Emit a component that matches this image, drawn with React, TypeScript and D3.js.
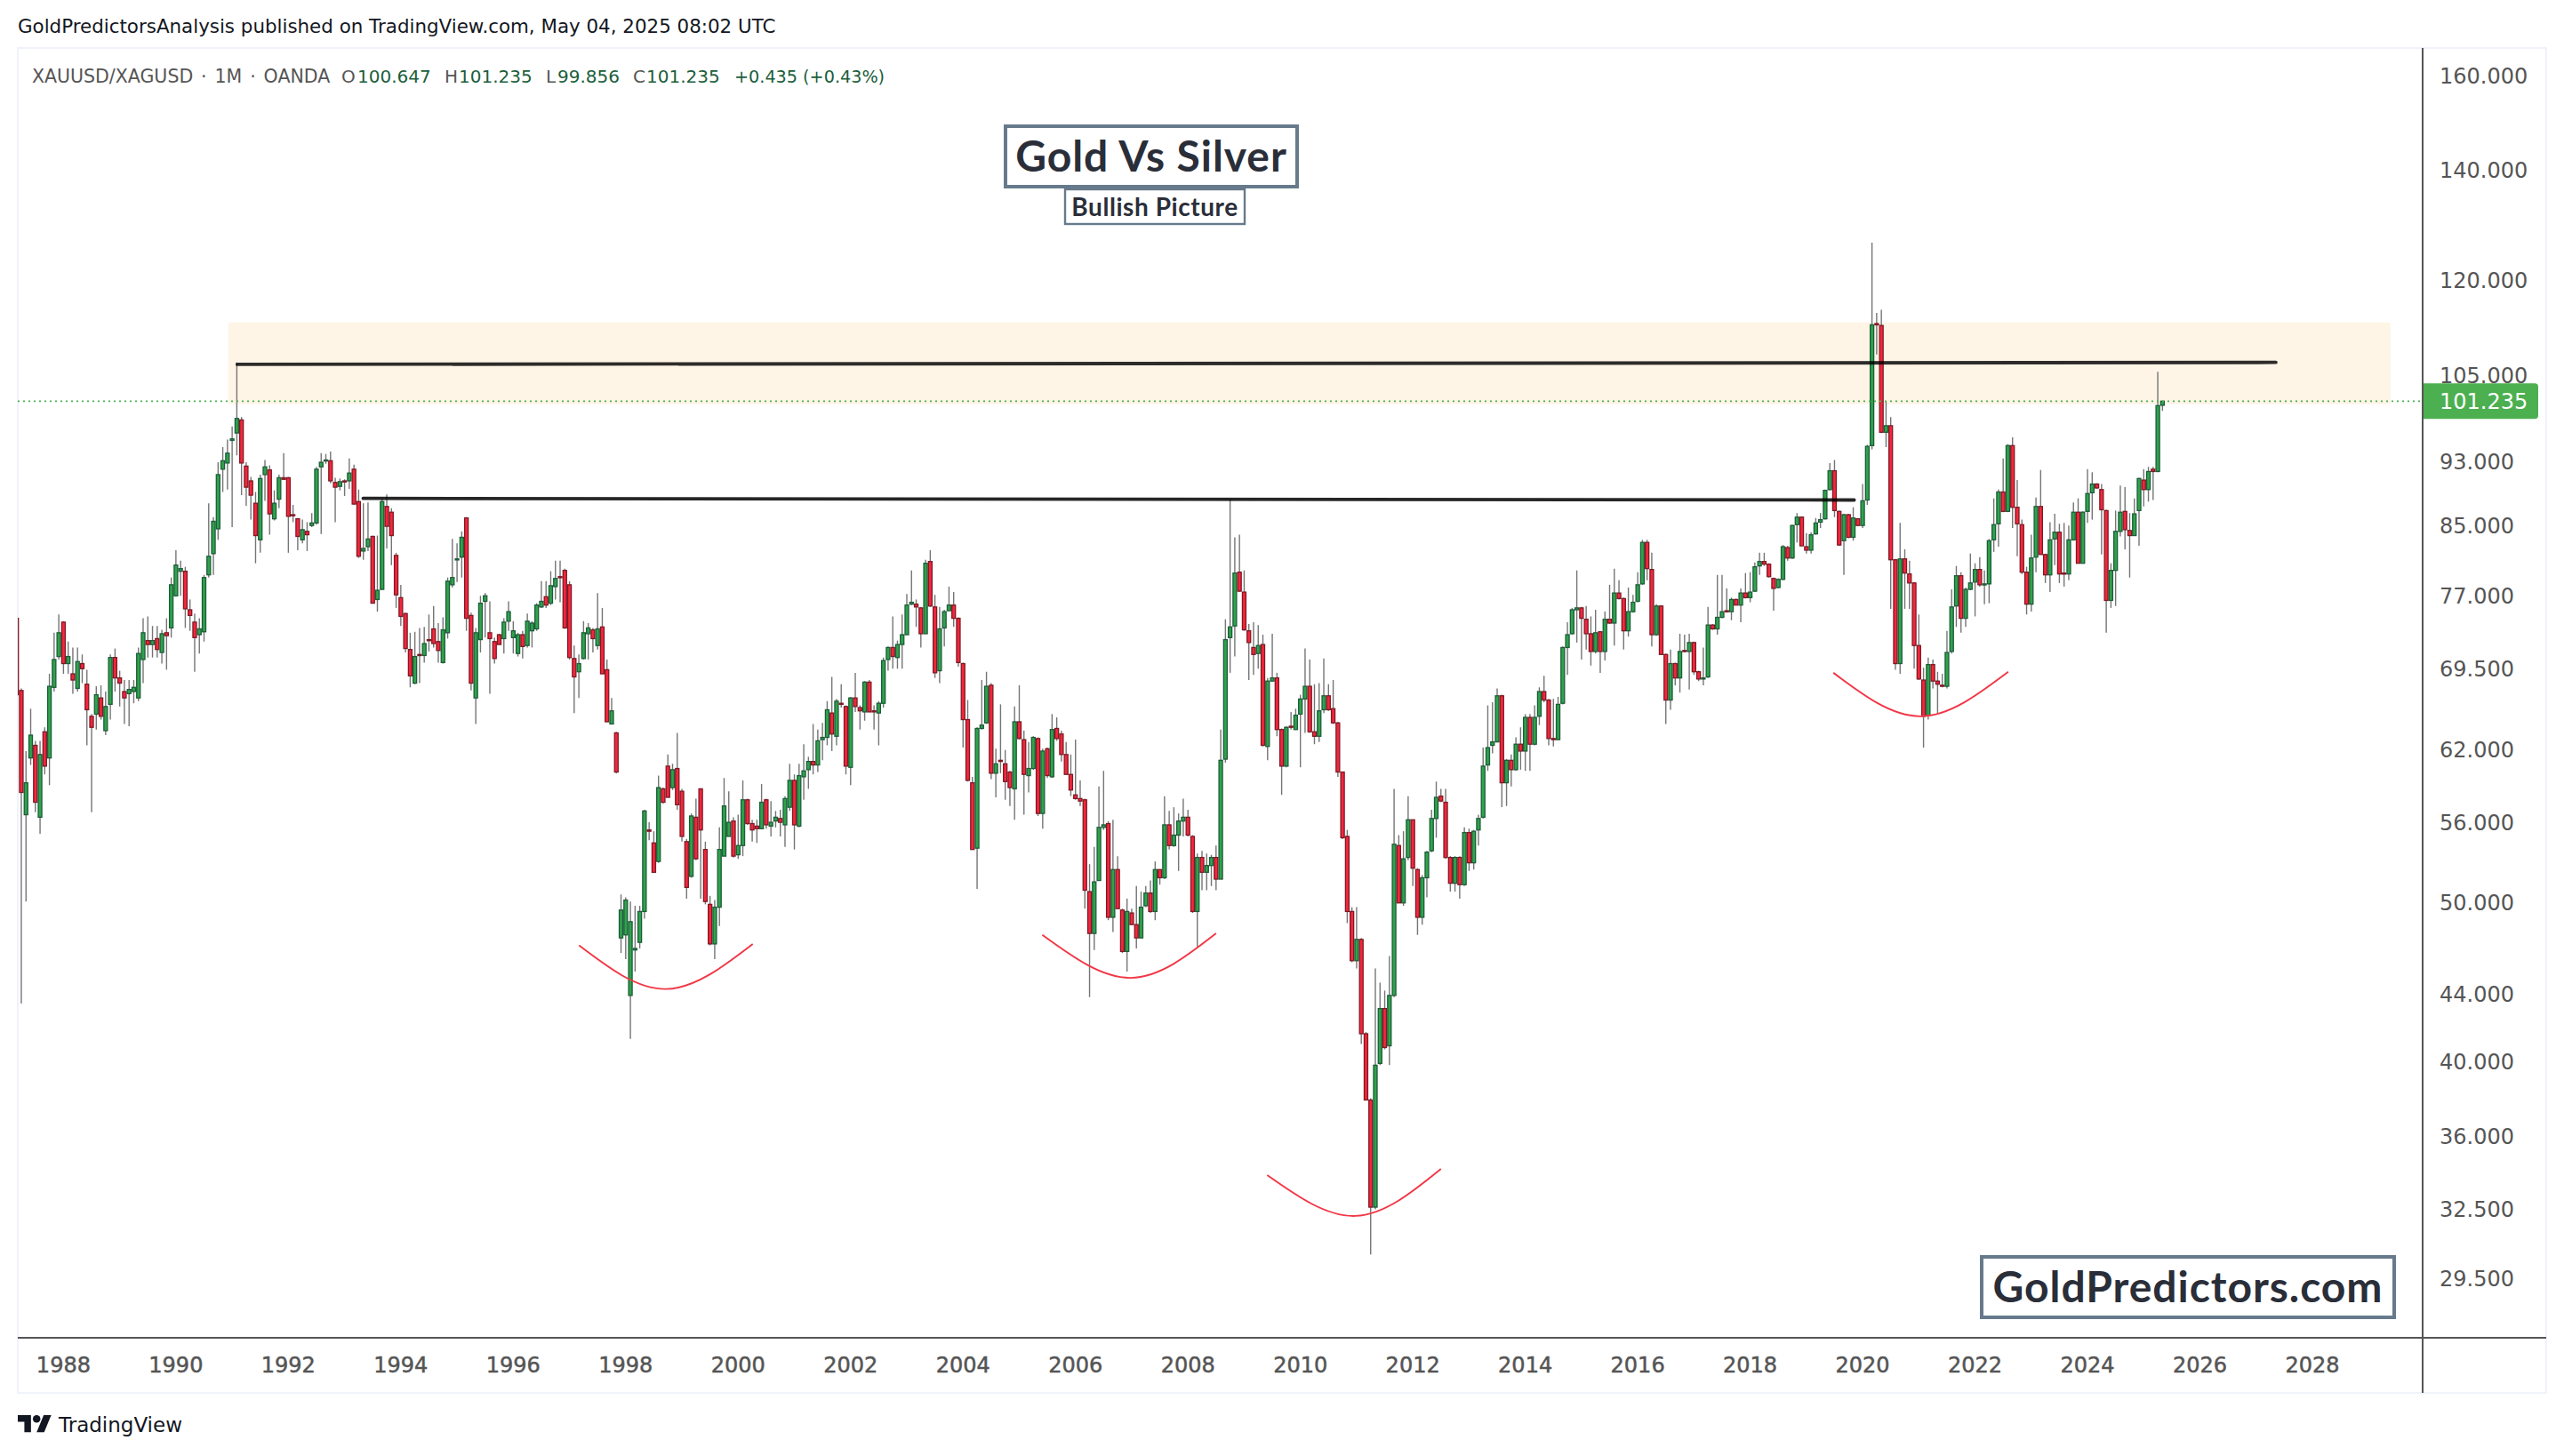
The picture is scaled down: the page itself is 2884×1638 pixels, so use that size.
import React from 'react';
import * as d3 from 'd3';

type Candle = [number, number, number, number]; // open, high, low, close

// XAUUSD/XAGUSD monthly bars, the first one is Mar 1987
const candles1987to1989: Candle[] = [
  [74.6,74.6,60.0,67.0],[67.4,67.6,43.4,58.4],[56.6,61.9,50.1,59.2],[61.3,65.7,60.7,63.3],[62.4,62.8,56.8,57.6],[56.4,62.8,55.1,61.6],[63.6,64.0,59.9,60.6],[61.3,69.0,59.0,67.8],[67.7,73.1,67.3,70.4],[70.7,75.0,70.4,73.1],
  [74.2,74.3,69.0,70.0],[70.0,72.2,69.0,70.7],[69.0,71.6,67.1,68.4],[67.6,71.6,67.3,70.2],[70.0,70.9,68.1,69.5],[68.0,69.4,62.4,65.6],[65.0,65.2,56.8,64.0],[65.2,67.8,63.8,67.0],[66.7,67.9,64.7,65.0],[63.7,67.3,63.3,65.9],
  [66.1,70.9,64.7,70.6],[70.6,71.5,67.3,68.6],[68.6,69.3,65.9,68.1],[67.3,68.4,64.3,66.7],[67.1,68.4,64.1,67.5],[67.3,68.4,66.2,67.7],[66.7,71.6,66.4,71.0],[70.4,74.6,68.1,73.1],[72.3,74.8,70.6,71.9],[71.9,73.8,70.6,72.3],
  [72.5,73.8,70.6,71.4],[71.1,73.4,70.0,73.0],[73.1,74.6,69.4,72.8],[73.6,79.0,72.6,78.2],
];
const candles1990to1994: Candle[] = [
  [77.0,82.1,76.9,80.4],[79.7,80.9,77.0,80.0],[79.7,80.2,73.6,75.6],[75.5,76.6,73.3,74.9],[74.2,75.1,69.2,72.6],[72.9,74.6,71.0,73.5],[73.2,79.3,72.2,79.0],[79.3,87.7,79.0,81.4],[81.7,86.0,79.3,85.5],[84.6,92.9,83.3,91.3],
  [92.0,94.9,89.1,93.1],[92.8,95.9,89.4,94.1],[95.8,97.7,84.8,96.0],[96.8,106.9,93.8,98.8],[98.6,99.0,88.7,92.8],[92.4,92.9,87.4,89.7],[90.5,91.0,85.7,88.7],[87.7,89.1,80.6,83.8],[83.3,91.3,81.8,90.8],[91.3,93.2,88.0,92.3],
  [91.9,92.5,83.9,86.4],[85.8,89.3,85.6,87.7],[88.2,91.3,87.1,90.9],[90.9,94.1,90.6,90.7],[90.9,91.0,81.8,86.1],[86.3,87.5,85.4,86.2],[85.8,85.9,82.1,83.7],[83.3,85.7,82.9,84.5],[84.3,85.4,82.0,83.9],[85.0,86.5,84.8,85.3],
  [85.3,92.3,85.1,92.0],[92.3,94.1,84.0,92.9],[93.1,94.0,92.7,93.2],[93.1,94.3,90.2,90.5],[90.3,90.9,85.4,89.7],[89.8,90.8,89.3,90.4],[90.5,90.7,88.6,90.4],[90.5,93.4,89.5,91.5],[92.0,92.6,87.5,87.6],[87.9,89.4,81.2,81.4],
  [82.0,87.7,81.0,82.3],[82.5,87.8,82.0,83.4],[83.7,83.8,76.2,76.2],[76.6,83.8,75.3,77.6],[77.7,88.3,77.6,87.9],[87.3,88.8,82.3,84.9],[86.6,87.1,80.4,83.8],[81.5,81.8,75.7,77.1],[76.8,78.2,73.8,74.8],[75.1,75.2,71.1,71.5],
  [71.4,73.1,67.7,68.8],[68.1,73.2,68.0,70.7],[70.9,73.6,68.1,70.8],[70.8,73.7,70.1,72.0],[72.4,75.0,71.2,72.3],[73.5,75.9,71.6,72.0],[72.2,74.1,70.1,71.3],[70.1,74.7,70.0,73.4],[73.1,79.0,72.5,78.6],[78.2,83.4,77.9,79.0],
];
const candles1995to1999: Candle[] = [
  [81.0,82.9,78.5,81.1],[81.3,84.3,79.0,83.6],[85.9,86.0,73.3,74.6],[74.9,75.2,67.4,68.1],[66.7,73.6,64.3,73.1],[72.4,77.0,71.1,76.2],[76.4,77.3,72.6,77.0],[73.1,76.4,67.1,72.5],[72.2,72.6,70.0,70.5],[72.9,73.0,71.9,71.9],
  [72.5,74.6,71.0,74.2],[74.3,76.4,73.3,75.3],[72.6,74.3,71.0,73.3],[71.0,73.1,70.7,72.9],[72.9,73.3,70.5,71.7],[71.8,75.1,71.6,74.3],[73.3,74.3,71.6,74.1],[73.5,76.2,73.3,76.0],[75.8,78.6,75.7,76.4],[76.9,78.6,75.7,76.0],
  [76.2,79.7,76.0,78.1],[78.0,80.9,76.6,78.9],[79.1,80.9,76.3,79.0],[79.8,80.0,73.5,73.6],[78.2,78.6,70.4,70.6],[70.5,71.8,65.3,68.7],[69.2,70.9,66.7,70.0],[70.5,74.3,70.4,73.1],[73.0,74.1,70.4,73.6],[73.4,73.6,71.1,72.5],
  [71.8,77.3,71.4,73.5],[73.7,75.7,69.0,69.0],[69.4,70.4,64.5,64.5],[64.3,66.7,64.3,65.5],[63.5,63.6,60.0,60.1],[47.6,50.6,46.6,49.5],[47.8,50.4,46.2,50.2],[43.9,50.1,41.3,48.7],[46.8,49.8,45.4,46.9],[47.3,49.8,46.9,49.4],
  [49.4,57.0,48.9,56.9],[55.4,56.0,54.6,55.3],[54.4,55.3,52.2,52.2],[53.0,59.8,52.9,58.8],[58.7,58.8,57.5,57.6],[60.6,61.6,58.0,58.0],[58.8,60.8,58.6,60.3],[60.4,63.5,57.0,57.4],[58.5,58.7,54.5,54.9],[54.5,54.7,50.3,51.1],
  [51.9,56.7,51.8,56.5],[56.4,57.9,53.1,53.2],[58.7,58.7,50.3,55.4],[53.9,54.5,49.9,50.1],[49.9,50.5,47.1,47.2],[47.2,50.2,46.2,49.7],[49.7,55.6,48.4,53.9],[53.4,59.6,53.4,57.3],[54.9,58.5,54.9,56.0],[56.1,56.4,53.3,53.4],
];
const candles2000to2004: Candle[] = [
  [53.5,56.6,53.2,54.2],[54.2,59.4,53.4,57.8],[57.8,57.9,55.8,55.9],[55.9,56.2,54.5,55.4],[55.7,56.2,54.4,55.5],[55.5,59.1,55.5,57.6],[57.8,57.9,55.5,55.8],[55.7,57.7,54.9,56.0],[56.1,56.9,55.6,56.4],[56.3,57.0,54.9,56.0],
  [55.8,58.1,54.1,57.9],[57.2,60.8,56.9,59.4],[59.4,59.9,53.9,55.8],[55.7,60.8,55.6,59.8],[59.7,62.5,57.8,60.2],[60.3,61.4,58.7,61.0],[61.0,64.3,59.9,60.7],[60.7,63.8,60.1,62.8],[62.9,64.4,61.1,63.1],[63.1,66.4,62.4,65.6],
  [65.3,68.7,61.9,63.4],[63.2,66.6,62.4,66.4],[66.2,68.0,65.8,66.1],[65.9,66.0,59.9,60.6],[60.5,66.8,59.0,66.7],[66.7,69.1,65.4,65.9],[65.8,66.0,63.8,65.5],[65.4,68.3,64.6,68.2],[68.2,68.4,65.4,65.4],[65.5,66.0,63.8,65.4],
  [65.3,66.4,62.4,66.2],[66.2,70.6,65.8,70.3],[70.4,71.7,69.3,71.6],[71.6,74.8,69.5,70.7],[70.6,72.3,69.5,71.9],[71.9,75.0,69.5,72.9],[72.9,77.2,72.9,76.0],[76.1,79.8,76.0,76.3],[76.1,76.6,73.7,75.8],[75.7,75.8,71.6,73.0],
  [73.0,81.0,73.0,80.6],[80.8,82.1,75.8,75.9],[75.8,77.1,68.6,69.1],[69.3,75.8,68.1,73.5],[73.6,75.5,71.7,75.3],[75.4,78.0,75.4,76.0],[76.0,77.4,73.7,74.6],[74.6,74.7,69.7,70.1],[70.0,70.1,62.2,64.7],[64.7,66.5,59.3,59.4],
  [59.2,59.7,53.9,53.9],[54.0,64.0,51.0,63.9],[63.9,68.4,63.8,64.2],[64.4,69.2,64.3,67.8],[67.9,68.1,59.5,60.0],[60.0,62.1,58.0,60.8],[61.1,66.1,60.0,61.0],[60.8,62.0,57.8,59.3],[60.1,60.2,57.3,58.8],[58.7,65.9,56.2,64.5],
];
const candles2005to2009: Candle[] = [
  [64.5,67.9,62.9,63.0],[62.9,63.7,56.6,59.9],[59.8,62.7,58.4,60.4],[60.4,63.2,60.3,63.1],[63.0,63.1,56.5,56.7],[56.7,62.1,55.5,61.9],[62.1,62.2,59.6,59.8],[59.7,65.2,59.6,63.8],[63.9,64.9,62.8,63.0],[63.4,63.7,61.0,61.6],
  [61.6,62.7,59.9,59.9],[59.9,61.6,58.1,58.6],[58.2,62.9,57.8,57.9],[57.9,59.4,57.3,57.7],[57.8,57.9,49.6,50.9],[50.8,52.8,43.8,47.9],[47.9,54.1,46.8,51.5],[51.6,58.9,51.6,55.6],[55.6,60.2,55.4,55.8],[55.9,56.1,48.8,49.0],
  [49.0,56.2,48.0,52.4],[52.4,53.4,49.6,49.6],[49.5,49.6,46.6,46.7],[46.7,50.3,45.4,49.4],[49.3,49.6,48.5,48.5],[48.5,51.2,46.9,47.6],[47.6,50.8,47.6,49.7],[49.8,51.2,49.7,50.7],[50.7,51.6,49.3,49.4],[49.4,53.0,48.8,52.4],
  [52.4,52.4,51.3,51.8],[51.8,58.1,51.7,55.8],[55.8,56.9,53.9,54.2],[54.2,57.2,54.1,55.0],[55.0,56.7,52.3,56.1],[56.1,57.9,54.9,56.4],[56.4,57.0,54.9,55.0],[54.9,55.0,49.3,49.4],[49.4,53.6,47.0,53.3],[53.3,53.8,50.9,52.2],
  [52.2,53.6,50.9,52.7],[52.7,53.5,51.2,53.3],[53.3,54.2,50.9,51.7],[51.7,63.8,51.7,61.1],[61.2,74.5,60.9,72.4],[72.6,88.2,69.1,73.7],[73.8,83.6,70.7,79.5],[79.6,83.9,77.4,77.5],[77.4,79.8,73.3,73.4],[73.3,74.0,68.4,72.1],
  [71.6,74.2,68.9,70.9],[71.0,73.9,69.5,71.8],[71.9,72.9,62.3,62.4],[62.3,68.6,61.1,68.3],[68.3,73.0,68.3,68.6],[68.6,69.1,63.2,63.8],[63.8,63.9,58.2,60.6],[60.6,64.1,60.5,64.0],[64.1,65.4,63.8,64.0],[63.8,65.7,63.8,65.1],
];
const candles2010to2014: Candle[] = [
  [65.2,67.0,60.5,66.6],[66.6,71.5,63.5,67.8],[67.8,70.4,63.5,63.6],[63.6,68.0,62.5,63.2],[63.2,68.1,62.7,65.5],[65.6,70.5,65.3,66.9],[66.9,68.0,65.5,65.6],[65.7,68.4,64.3,64.4],[64.4,64.5,59.7,60.1],[60.1,60.1,54.7,54.8],
  [54.9,55.4,48.6,49.4],[49.4,49.7,46.0,46.1],[46.1,49.7,45.6,47.5],[47.5,47.6,41.0,41.6],[41.6,41.7,37.9,37.9],[37.9,38.0,30.5,32.6],[32.6,45.6,32.5,39.8],[39.9,44.7,39.8,43.1],[43.1,44.2,40.7,40.8],[40.9,46.4,39.8,43.9],
  [43.9,58.7,43.8,54.3],[54.2,55.0,50.0,50.0],[50.0,55.3,49.8,53.2],[53.3,58.1,53.1,56.2],[56.2,56.2,51.2,52.5],[52.4,52.5,47.8,49.0],[49.0,52.0,48.5,51.8],[51.8,53.8,50.4,53.7],[53.8,57.0,53.7,56.3],[56.3,59.3,54.8,58.0],
  [58.1,58.7,57.6,57.7],[57.6,58.7,53.2,53.3],[53.3,53.4,50.8,51.4],[51.4,53.4,50.8,53.3],[53.3,53.4,50.3,51.3],[51.3,55.6,51.2,55.2],[55.2,55.5,52.3,52.9],[52.9,55.4,52.4,55.3],[55.4,56.6,54.2,56.3],[56.4,62.2,56.3,60.6],
  [60.7,66.0,60.2,62.2],[62.4,66.3,61.7,62.7],[62.7,67.6,62.7,66.9],[66.9,67.0,57.2,59.2],[59.2,61.2,57.3,61.1],[61.1,61.6,58.9,60.3],[60.3,63.1,60.2,62.5],[62.5,64.0,60.3,61.9],[61.9,65.2,60.2,64.9],[64.9,65.2,60.2,62.5],
  [62.5,66.0,62.4,64.9],[65.0,67.7,64.2,67.3],[67.3,68.8,66.3,66.5],[66.5,66.6,62.4,63.0],[63.0,66.6,62.3,62.9],[62.9,66.8,62.9,66.1],[66.2,71.7,66.1,71.6],[71.6,74.2,68.9,72.9],[73.0,75.7,72.9,75.5],[75.5,79.8,72.1,75.7],
];
const candles2015to2019: Candle[] = [
  [75.7,75.8,70.4,74.6],[74.5,75.9,71.4,73.0],[73.0,74.8,69.8,71.2],[71.2,75.5,71.0,73.1],[73.2,73.3,69.1,71.2],[71.2,75.3,70.3,74.5],[74.5,78.2,74.0,74.1],[74.1,80.0,71.8,77.3],[77.3,78.7,76.6,76.7],[76.7,76.8,71.4,73.3],
  [73.3,77.9,72.7,75.3],[75.3,77.1,75.2,76.3],[76.4,79.6,76.3,78.2],[78.3,83.3,78.2,83.0],[83.0,83.3,78.7,80.0],[79.9,81.8,71.7,72.9],[72.9,76.1,72.8,75.9],[75.9,76.0,70.9,70.9],[70.9,71.0,64.3,66.5],[66.5,71.4,65.6,70.0],
  [70.0,70.1,67.9,68.6],[68.6,73.0,67.2,71.2],[71.3,72.9,71.1,71.2],[71.2,73.0,67.5,72.1],[72.1,72.2,68.9,69.2],[69.2,69.3,68.3,68.5],[68.5,71.6,67.9,68.6],[68.7,75.8,68.6,73.9],[73.9,74.0,73.4,73.5],[73.5,79.3,72.9,74.7],
  [74.7,79.3,74.6,75.3],[75.4,77.8,75.2,75.3],[75.3,76.8,74.4,76.6],[76.6,76.7,76.0,76.0],[76.0,77.8,74.2,77.3],[77.3,79.5,76.7,76.8],[76.8,79.6,76.3,77.4],[77.5,80.7,77.4,80.2],[80.3,81.8,79.3,80.8],[80.8,81.8,80.3,80.5],
  [80.5,80.6,79.0,79.1],[78.9,79.0,75.4,77.8],[77.9,78.9,77.8,78.8],[78.8,82.7,78.7,82.5],[82.4,82.6,80.9,81.2],[81.2,85.1,81.1,85.0],[85.1,86.5,83.0,86.0],[86.0,86.1,82.6,82.6],[82.5,84.1,81.7,82.1],[82.1,84.2,81.7,83.9],
  [84.0,85.9,83.9,85.3],[85.4,86.5,84.7,85.7],[85.8,89.4,85.7,89.3],[89.4,92.8,89.3,91.8],[91.8,93.2,86.0,86.8],[86.7,86.8,82.6,82.7],[83.2,86.4,79.3,86.3],[86.3,86.4,83.5,83.6],[83.6,87.2,83.2,85.9],[85.8,85.9,84.9,85.0],
];
const candles2020to2025: Candle[] = [
  [85.0,90.1,84.7,88.0],[88.1,95.2,87.5,95.0],[95.1,126.5,94.6,112.7],[112.9,114.6,108.1,112.7],[112.6,115.1,96.8,96.9],[96.9,101.2,94.9,97.8],[97.8,99.0,75.6,81.0],[81.0,81.1,69.4,70.0],[70.0,85.3,69.0,81.1],[81.1,82.2,75.6,79.5],
  [79.4,80.9,75.6,78.4],[78.4,78.5,69.5,71.8],[71.8,75.0,68.4,68.5],[68.4,69.6,62.2,65.0],[65.1,70.6,64.7,69.9],[69.9,70.4,67.6,68.3],[68.3,69.2,65.2,68.0],[67.9,69.0,67.7,67.8],[67.8,73.3,67.6,71.1],[71.2,77.7,71.0,75.8],
  [75.9,80.3,73.7,79.2],[79.2,79.6,73.1,74.6],[74.6,77.9,73.7,77.7],[77.7,81.7,77.6,78.4],[78.5,80.6,74.8,79.9],[79.9,81.3,78.0,78.2],[78.2,79.8,76.1,78.3],[78.3,83.4,76.2,83.2],[83.3,88.3,81.9,85.1],[85.2,89.4,82.5,89.1],
  [89.1,93.4,86.6,86.7],[86.7,95.3,86.6,95.1],[95.1,96.2,84.7,87.2],[87.2,90.6,81.4,85.2],[85.1,85.7,79.4,79.6],[79.6,80.2,75.0,76.1],[76.1,83.9,75.3,81.2],[81.3,88.4,79.6,87.3],[87.3,91.9,81.7,81.6],[81.6,81.7,78.4,79.3],
  [79.3,85.4,77.4,83.3],[83.4,86.4,80.4,84.2],[84.2,85.2,78.4,79.4],[79.5,85.3,78.0,79.4],[79.4,85.0,78.7,83.3],[83.3,87.8,83.2,86.6],[86.6,88.3,80.6,80.6],[80.6,86.7,80.6,86.6],[86.7,92.0,85.3,88.9],[89.0,91.6,85.7,90.1],
  [90.1,90.2,89.5,89.6],[89.4,90.1,81.6,86.9],[86.8,86.9,73.1,76.5],[76.5,80.6,75.7,79.8],[79.8,86.8,75.9,84.3],[84.3,89.9,83.7,86.6],[86.7,89.7,82.2,84.5],[84.4,86.5,79.0,83.8],[83.8,88.3,83.8,86.4],[86.8,90.9,82.6,90.8],
  [90.6,92.0,87.3,89.4],[89.4,92.3,87.9,91.7],[92.0,92.3,88.1,91.7],[91.7,105.5,91.6,100.6],[100.647,101.235,99.856,101.235],
];

const lastPrice = 101.235;
const priceTicks = [160, 140, 120, 105, 93, 85, 77, 69.5, 62, 56, 50, 44, 40, 36, 32.5, 29.5];
const yearTicks = d3.range(1988, 2029, 2);

// drawings, [year, price]
const resistanceZone = { from: 1990.93, to: 2029.39, top: 113.1, bottom: 100.8 };
const upperLevel: [number, number][] = [[1991.09, 106.6], [2027.35, 106.9]];
const lowerLevel: [number, number][] = [[1993.33, 88.3], [2019.85, 88.1]];
const bottomArcs: [number, number][][] = [
  [[1997.17, 47.1], [1998.71, 44.3], [2000.26, 47.2]],
  [[2005.41, 47.8], [2006.98, 45.0], [2008.5, 47.9]],
  [[2009.41, 34.1], [2010.98, 32.2], [2012.5, 34.4]],
  [[2019.48, 69.1], [2021.03, 65.0], [2022.59, 69.2]],
];

const candles = [
  ...candles1987to1989, ...candles1990to1994, ...candles1995to1999, ...candles2000to2004,
  ...candles2005to2009, ...candles2010to2014, ...candles2015to2019, ...candles2020to2025,
];

const W = 2884;
const H = 1638;
const frame = { left: 20, top: 54, right: 2864, bottom: 1567 };
const axisX = 2725;
const axisY = 1505;
const uiFont = '"DejaVu Sans", sans-serif';
const noteFont = 'Lato, sans-serif';
const green = '#1b5e3b';

function NoteBox({ x, y, w, h, sw, size, label }: any) {
  return (
    <g>
      <rect x={x} y={y} width={w} height={h} fill="#fff" stroke="#667a8c" strokeWidth={sw} />
      <text x={x + w / 2} y={y + h / 2} dy="0.36em" textAnchor="middle" fontFamily={noteFont}
        fontWeight={700} fontSize={size} fill="#2a2e39" letterSpacing={size * 0.02}>{label}</text>
    </g>
  );
}

export default function App() {
  const x = d3.scaleLinear().domain([1988, 2028]).range([71.4, 2601]);
  const y = d3.scaleLog().domain([160, 29.5]).range([85, 1438]);
  const path = d3.line<[number, number]>().x((d) => x(d[0])).y((d) => y(d[1]));
  const arcPath = d3.line<[number, number]>().x((d) => x(d[0])).y((d) => y(d[1])).curve(d3.curveNatural);
  const barYear = (i: number) => 1987 + (2 + i) / 12;

  return (
    <svg width={W} height={H} viewBox={`0 0 ${W} ${H}`}
      style={{ position: 'absolute', left: 0, top: 0, background: '#fff' }}>
      <defs>
        <clipPath id="pane"><rect x={frame.left} y={frame.top} width={axisX - frame.left} height={axisY - frame.top} /></clipPath>
      </defs>

      <text x={20} y={37} fontFamily={uiFont} fontSize={21.4} fill="#131722">
        GoldPredictorsAnalysis published on TradingView.com, May 04, 2025 08:02 UTC
      </text>

      <rect x={frame.left} y={frame.top} width={frame.right - frame.left} height={frame.bottom - frame.top}
        fill="#fff" stroke="#f0f3fa" strokeWidth={2} />

      <g clipPath="url(#pane)">
        <rect x={x(resistanceZone.from)} y={y(resistanceZone.top)}
          width={x(resistanceZone.to) - x(resistanceZone.from)}
          height={y(resistanceZone.bottom) - y(resistanceZone.top)} fill="#fff5e7" />

        {candles.map(([o, h, l, c], i) => (
          <line key={`w${i}`} x1={x(barYear(i))} x2={x(barYear(i))} y1={y(h)} y2={y(l)} stroke="#757575" strokeWidth={1.4} />
        ))}
        {candles.map(([o, h, l, c], i) => {
          const up = c >= o;
          const top = y(Math.max(o, c));
          return (
            <rect key={`b${i}`} x={x(barYear(i)) - 2} width={4} y={top}
              height={Math.max(y(Math.min(o, c)) - top, 1.2)}
              fill={up ? '#2fa34b' : '#f5263c'} stroke={up ? '#1d5c3a' : '#7d1a25'} strokeWidth={1.3} />
          );
        })}

        <path d={path(upperLevel) ?? ''} fill="none" stroke="#000" strokeOpacity={0.82} strokeWidth={3.8} strokeLinecap="round" />
        <path d={path(lowerLevel) ?? ''} fill="none" stroke="#000" strokeOpacity={0.85} strokeWidth={3.8} strokeLinecap="round" />
        {bottomArcs.map((a, i) => (
          <path key={i} d={arcPath(a) ?? ''} fill="none" stroke="#f23645" strokeWidth={1.9} />
        ))}
        <line x1={frame.left} x2={axisX} y1={y(lastPrice)} y2={y(lastPrice)} stroke="#4caf50" strokeWidth={1.7} strokeDasharray="2 4" />
      </g>

      <text y={93} fontFamily={uiFont} fontSize={20} fill="#555">
        <tspan x={36} fontSize={20.5} wordSpacing={2.4}>XAUUSD/XAGUSD · 1M · OANDA</tspan>
        <tspan x={384}>O</tspan><tspan x={402} fill={green}>100.647</tspan>
        <tspan x={500}>H</tspan><tspan x={516} fill={green}>101.235</tspan>
        <tspan x={614}>L</tspan><tspan x={627} fill={green}>99.856</tspan>
        <tspan x={712}>C</tspan><tspan x={727} fill={green}>101.235</tspan>
        <tspan x={826} fontSize={19.2} fill={green}>+0.435 (+0.43%)</tspan>
      </text>

      <NoteBox x={1131} y={142} w={328} h={68} sw={4} size={48} label="Gold Vs Silver" />
      <NoteBox x={1198} y={213} w={202} h={39} sw={2.4} size={28} label="Bullish Picture" />
      <NoteBox x={2229} y={1414} w={464} h={68} sw={4} size={48} label="GoldPredictors.com" />

      <line x1={axisX} x2={axisX} y1={frame.top} y2={frame.bottom} stroke="#555" strokeWidth={2} />
      <line x1={frame.left} x2={frame.right} y1={axisY} y2={axisY} stroke="#555" strokeWidth={2} />

      {priceTicks.map((p) => (
        <text key={p} x={2744} y={y(p)} dy="0.36em" fontFamily={uiFont} fontSize={24} fill="#555">{p.toFixed(3)}</text>
      ))}
      {yearTicks.map((t) => (
        <text key={t} x={x(t)} y={1544} textAnchor="middle" fontFamily={uiFont} fontSize={24} fill="#555"
          stroke="#555" strokeWidth={0.5}>{t}</text>
      ))}

      <path d={`M${axisX + 1} ${y(lastPrice) - 20}H2851a4 4 0 0 1 4 4V${y(lastPrice) + 16}a4 4 0 0 1 -4 4H${axisX + 1}Z`} fill="#4caf50" />
      <text x={2744} y={y(lastPrice)} dy="0.36em" fontFamily={uiFont} fontSize={24} fill="#fff">{lastPrice.toFixed(3)}</text>

      <g transform="translate(20,1591) scale(1.06)" fill="#131722">
        <path d="M14 19H7V8H0V1h14v18zM28 19h-8l7.5-18h8L28 19z" />
        <circle cx={20} cy={5} r={4} />
      </g>
      <text x={66} y={1611} fontFamily={uiFont} fontSize={23} fill="#131722">TradingView</text>
    </svg>
  );
}
